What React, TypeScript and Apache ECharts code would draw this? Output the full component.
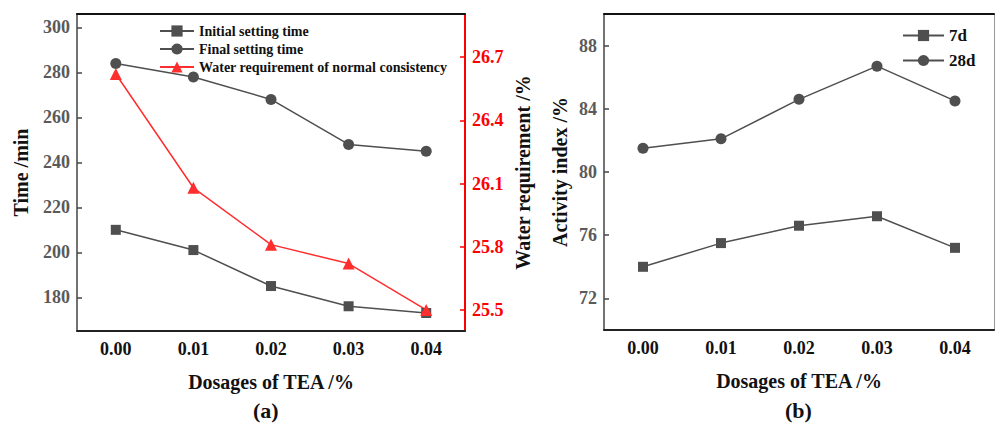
import React, { useEffect, useRef } from "react";
import * as echarts from "echarts";

const dosages = ["0.00", "0.01", "0.02", "0.03", "0.04"];
const initialSetting = [210, 201, 185, 176, 173];
const finalSetting = [284, 278, 268, 248, 245];
const waterRequirement = [26.62, 26.08, 25.81, 25.72, 25.5];
const activity7d = [74.0, 75.5, 76.6, 77.2, 75.2];
const activity28d = [81.5, 82.1, 84.6, 86.7, 84.5];
const timeTicks = [180, 200, 220, 240, 260, 280, 300];
const waterTicks = [25.5, 25.8, 26.1, 26.4, 26.7];
const activityTicks = [72, 76, 80, 84, 88];

const FONT = "'Liberation Serif', 'Times New Roman', serif";
const GRAY = "#4f4f4f";
const RED = "#ff2e2e";

export default function App() {
  const ref = useRef<HTMLDivElement>(null);
  useEffect(() => {
    if (!ref.current) return;
    const chart = echarts.init(ref.current, undefined, { renderer: "svg" });
    const tickLabel = (color: string) => ({
      fontFamily: FONT,
      fontWeight: "bold" as const,
      fontSize: 18,
      color,
      margin: 7,
    });
    const nameStyle = {
      fontFamily: FONT,
      fontWeight: "bold" as const,
      fontSize: 20,
      color: "#111",
    };
    const xAxisBase = (gridIndex: number) => ({
      type: "category" as const,
      gridIndex,
      data: dosages,
      boundaryGap: true,
      name: "Dosages of TEA /%",
      nameLocation: "middle" as const,
      nameGap: 41,
      nameTextStyle: nameStyle,
      axisLine: { lineStyle: { color: "#222", width: 2 } },
      axisTick: { alignWithLabel: true, inside: true, length: 5, lineStyle: { color: "#222", width: 1.5 } },
      axisLabel: { ...tickLabel("#111"), margin: 9 },
      splitLine: { show: false },
    });
    const topAxis = (gridIndex: number) => ({
      type: "category" as const,
      gridIndex,
      position: "top" as const,
      data: dosages,
      axisLine: { lineStyle: { color: "#111", width: 2 } },
      axisTick: { show: false },
      axisLabel: { show: false },
      splitLine: { show: false },
    });
    chart.setOption({
      animation: false,
      backgroundColor: "#fff",
      grid: [
        { left: 77, right: 531, top: 14, bottom: 94 },
        { left: 604, right: 2, top: 14, bottom: 95 },
      ],
      legend: [
        {
          data: ["Initial setting time", "Final setting time", "Water requirement of normal consistency"],
          orient: "vertical",
          left: 159,
          top: 24,
          padding: 0,
          itemWidth: 34,
          itemHeight: 14,
          itemGap: 4,
          textStyle: { fontFamily: FONT, fontWeight: "bold", fontSize: 14, color: "#111" },
        },
        {
          data: ["7d", "28d"],
          orient: "vertical",
          left: 902,
          top: 27,
          padding: 0,
          itemWidth: 41,
          itemHeight: 14,
          itemGap: 8,
          textStyle: { fontFamily: FONT, fontWeight: "bold", fontSize: 17, color: "#111" },
        },
      ],
      xAxis: [xAxisBase(0), xAxisBase(1), topAxis(0), topAxis(1)],
      yAxis: [
        {
          type: "value",
          gridIndex: 0,
          min: 165,
          max: 306,
          name: "Time /min",
          nameLocation: "middle",
          nameRotate: 90,
          nameGap: 46,
          nameTextStyle: nameStyle,
          axisLine: { show: true, lineStyle: { color: "#444", width: 1.5 } },
          axisTick: { show: true, inside: true, length: 5, customValues: timeTicks, lineStyle: { color: "#444", width: 1.5 } },
          axisLabel: { ...tickLabel("#5a5a5a"), customValues: timeTicks },
          splitLine: { show: false },
        },
        {
          type: "value",
          gridIndex: 0,
          position: "right",
          min: 25.4,
          max: 26.905,
          name: "Water requirement /%",
          nameLocation: "middle",
          nameRotate: 90,
          nameGap: 48,
          nameTextStyle: nameStyle,
          axisLine: { show: true, lineStyle: { color: "#ff0000", width: 2 } },
          axisTick: { show: true, inside: true, length: 5, customValues: waterTicks, lineStyle: { color: "#ff0000", width: 1.5 } },
          axisLabel: {
            ...tickLabel("#ff0000"),
            customValues: waterTicks,
            formatter: (v: number) => v.toFixed(1),
          },
          splitLine: { show: false },
        },
        {
          type: "value",
          gridIndex: 1,
          min: 70,
          max: 90,
          name: "Activity index /%",
          nameLocation: "middle",
          nameRotate: 90,
          nameGap: 34,
          nameTextStyle: nameStyle,
          axisLine: { show: true, lineStyle: { color: "#444", width: 1.5 } },
          axisTick: { show: true, inside: true, length: 5, customValues: activityTicks, lineStyle: { color: "#444", width: 1.5 } },
          axisLabel: { ...tickLabel("#5a5a5a"), customValues: activityTicks },
          splitLine: { show: false },
        },
        {
          type: "value",
          gridIndex: 1,
          position: "right",
          min: 0,
          max: 1,
          axisLine: { show: true, lineStyle: { color: "#999", width: 1 } },
          axisTick: { show: false },
          axisLabel: { show: false },
          splitLine: { show: false },
        },
      ],
      series: [
        {
          name: "Initial setting time",
          type: "line",
          xAxisIndex: 0,
          yAxisIndex: 0,
          data: initialSetting,
          symbol: "rect",
          symbolSize: 10,
          itemStyle: { color: GRAY },
          lineStyle: { color: GRAY, width: 1.5 },
        },
        {
          name: "Final setting time",
          type: "line",
          xAxisIndex: 0,
          yAxisIndex: 0,
          data: finalSetting,
          symbol: "circle",
          symbolSize: 11,
          itemStyle: { color: GRAY },
          lineStyle: { color: GRAY, width: 1.5 },
        },
        {
          name: "Water requirement of normal consistency",
          type: "line",
          xAxisIndex: 0,
          yAxisIndex: 1,
          data: waterRequirement,
          symbol: "triangle",
          symbolSize: 12,
          itemStyle: { color: RED },
          lineStyle: { color: RED, width: 1.5 },
        },
        {
          name: "7d",
          type: "line",
          xAxisIndex: 1,
          yAxisIndex: 2,
          data: activity7d,
          symbol: "rect",
          symbolSize: 10,
          itemStyle: { color: GRAY },
          lineStyle: { color: GRAY, width: 1.5 },
        },
        {
          name: "28d",
          type: "line",
          xAxisIndex: 1,
          yAxisIndex: 2,
          data: activity28d,
          symbol: "circle",
          symbolSize: 11,
          itemStyle: { color: GRAY },
          lineStyle: { color: GRAY, width: 1.5 },
        },
      ],
      graphic: [
        {
          type: "text",
          left: 253,
          top: 399,
          style: { text: "(a)", fontFamily: FONT, fontWeight: "bold", fontSize: 22, fill: "#111" },
        },
        {
          type: "text",
          left: 785,
          top: 399,
          style: { text: "(b)", fontFamily: FONT, fontWeight: "bold", fontSize: 22, fill: "#111" },
        },
      ],
    });
    return () => chart.dispose();
  }, []);
  return (
    <div
      ref={ref}
      style={{ position: "fixed", left: 0, top: 0, width: 996, height: 425, background: "#fff" }}
    />
  );
}
